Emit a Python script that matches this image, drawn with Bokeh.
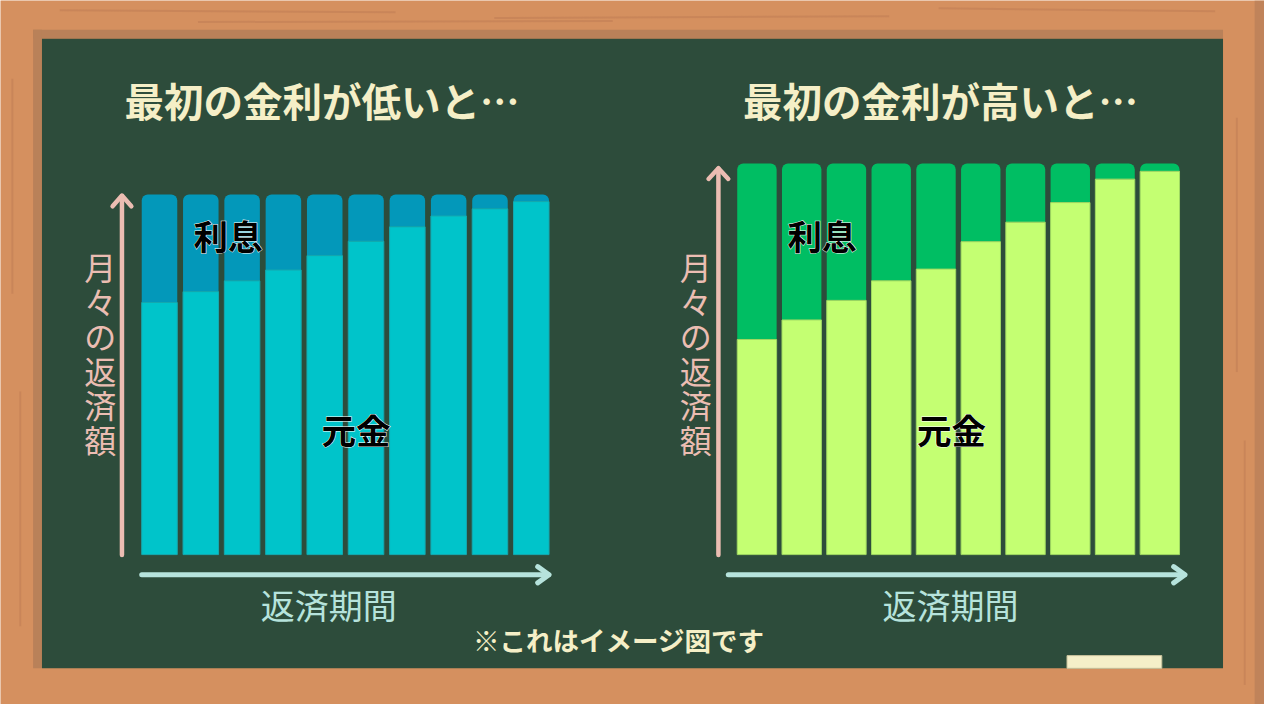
from bokeh.plotting import figure
from bokeh.models import Range1d
from bokeh.core.properties import value
from bokeh.embed import file_html
from bokeh.resources import INLINE

# ---------------- data ----------------
periods = [1, 2, 3, 4, 5, 6, 7, 8, 9, 10]
low_principal = [70, 73, 76, 79, 83, 87, 91, 94, 96, 98]
low_interest = [30, 27, 24, 21, 17, 13, 9, 6, 4, 2]
high_principal = [55, 60, 65, 70, 73, 80, 85, 90, 96, 98]
high_interest = [45, 40, 35, 30, 27, 20, 15, 10, 4, 2]

titles = ["最初の金利が低いと…", "最初の金利が高いと…"]
y_label = "月々の返済額"
x_label = "返済期間"
interest_label = "利息"
principal_label = "元金"
note = "※これはイメージ図です"

# ---------------- style ----------------
FONT = value("Noto Sans CJK JP")
WOOD = "#d5905f"
WOOD_DARK = "#b98159"
BOARD = "#2d4c3b"
CREAM = "#f5efc7"
PINK = "#ebbdb2"
MINT = "#b6e3dc"
LOW_INT, LOW_PRI = "#0398ba", "#00c4ca"
HIGH_INT, HIGH_PRI = "#00be63", "#c4ff72"

W, H = 1264, 704      # canvas size (fits the 1280x720 window with 8px margin)
RW, RH = 1280, 720    # design coordinate space


def rng(v0, s0, v1, s1, smin, smax):
    k = (s1 - s0) / (v1 - v0)
    return Range1d(start=v0 + (smin - s0) / k, end=v0 + (smax - s0) / k)


p = figure(width=W, height=H, x_range=Range1d(0, RW), y_range=Range1d(RH, 0),
           output_backend="svg", toolbar_location=None, x_axis_type=None, y_axis_type=None,
           min_border=0, background_fill_color=WOOD, border_fill_color=WOOD)
p.grid.visible = False
p.outline_line_color = None

p.extra_x_ranges = {
    "lx": rng(1, 161, 10, 537.5, 0, RW),
    "rx": rng(1, 766, 10, 1174, 0, RW),
}
p.extra_y_ranges = {
    "ly": rng(0, 566.7, 100, 198.3, RH, 0),
    "ry": rng(0, 566.7, 100, 166.7, RH, 0),
}

# ---------------- frame & board ----------------
p.multi_line(xs=[[60, 400], [500, 900], [950, 1230], [12, 12], [20, 20], [1252, 1252], [1260, 1260], [200, 620]],
             ys=[[10, 12], [18, 16], [8, 11], [80, 300], [400, 640], [120, 380], [450, 700], [22, 21]],
             line_color="#c27f55", line_width=2, line_alpha=0.6)
p.quad(left=[1270], right=[1280], top=[0], bottom=[720], fill_color="#c0835a", line_color=None)
p.quad(left=[33], right=[1238], top=[30], bottom=[39], fill_color=WOOD_DARK, line_color=None)
p.quad(left=[33], right=[42], top=[30], bottom=[683], fill_color=WOOD_DARK, line_color=None)
p.quad(left=[42], right=[1238], top=[39], bottom=[683], fill_color=BOARD, line_color=None)
# chalk eraser
p.quad(left=[1080], right=[1176], top=[670], bottom=[683], fill_color="#f5efc8",
       line_color="#c8c29c", line_width=1)

# ---------------- bars ----------------
def bars(xr, yr, width, pri, inte, c_int, c_pri, edge):
    tops = [a + b for a, b in zip(pri, inte)]
    p.vbar(x=periods, width=width, bottom=pri, top=tops, fill_color=c_int, line_color=None,
           border_radius=(6, 6, 0, 0), x_range_name=xr, y_range_name=yr)
    p.vbar(x=periods, width=width, bottom=0, top=pri, fill_color=c_pri, line_color=edge,
           line_width=1, x_range_name=xr, y_range_name=yr)


bars("lx", "ly", 0.86, low_principal, low_interest, LOW_INT, LOW_PRI, "#14a9b0")
bars("rx", "ry", 0.88, high_principal, high_interest, HIGH_INT, HIGH_PRI, "#9fd862")

# ---------------- arrows ----------------
p.multi_line(xs=[[123, 123], [113.5, 123, 132.5], [727, 727], [717, 727, 737]],
             ys=[[567, 200], [210.5, 199.5, 210.5], [567, 172], [182.5, 171.5, 182.5]],
             line_color=PINK, line_width=4.5, line_cap="round", line_join="round")
p.multi_line(xs=[[143, 555], [544, 555.5, 544], [737, 1199], [1188, 1199.5, 1188]],
             ys=[[587.3, 587.3], [579, 587.3, 595.6], [587.3, 587.3], [579, 587.3, 595.6]],
             line_color=MINT, line_width=5, line_cap="round", line_join="round")

# ---------------- texts ----------------
p.text(x=[325.5, 952], y=[101, 101], text=titles, text_font=FONT, text_font_style="bold",
       text_font_size="39.5px", text_color=CREAM, text_align="center", text_baseline="middle")

chars = list(y_label)
cy = [272 + 35.2 * i for i in range(len(chars))]
for cx in (101, 704):
    p.text(x=[cx] * len(chars), y=cy, text=chars, text_font=FONT, text_font_size="32px",
           text_color=PINK, text_align="center", text_baseline="middle")

p.text(x=[332.5, 962], y=[618, 618], text=[x_label, x_label], text_font=FONT,
       text_font_size="34px", text_color=MINT, text_align="center", text_baseline="middle")

lab_x = [230.5, 832, 360, 963]
lab_y = [239.5, 239.5, 438, 438]
lab_t = [interest_label, interest_label, principal_label, principal_label]
p.text(x=lab_x, y=lab_y, text=lab_t, text_font=FONT, text_font_style="bold",
       text_font_size="34.5px", text_color="black", text_outline_color="white",
       text_align="center", text_baseline="middle")
p.text(x=lab_x, y=lab_y, text=lab_t, text_font=FONT, text_font_style="bold",
       text_font_size="34.5px", text_color="black",
       text_align="center", text_baseline="middle")

p.text(x=[626], y=[654], text=[note], text_font=FONT, text_font_style="bold",
       text_font_size="26.5px", text_color=CREAM, text_align="center", text_baseline="middle")

html = file_html(p, INLINE)
html = html.replace("<body>", '<body style="background:%s">' % WOOD, 1)
open("out.html", "w").write(html)
